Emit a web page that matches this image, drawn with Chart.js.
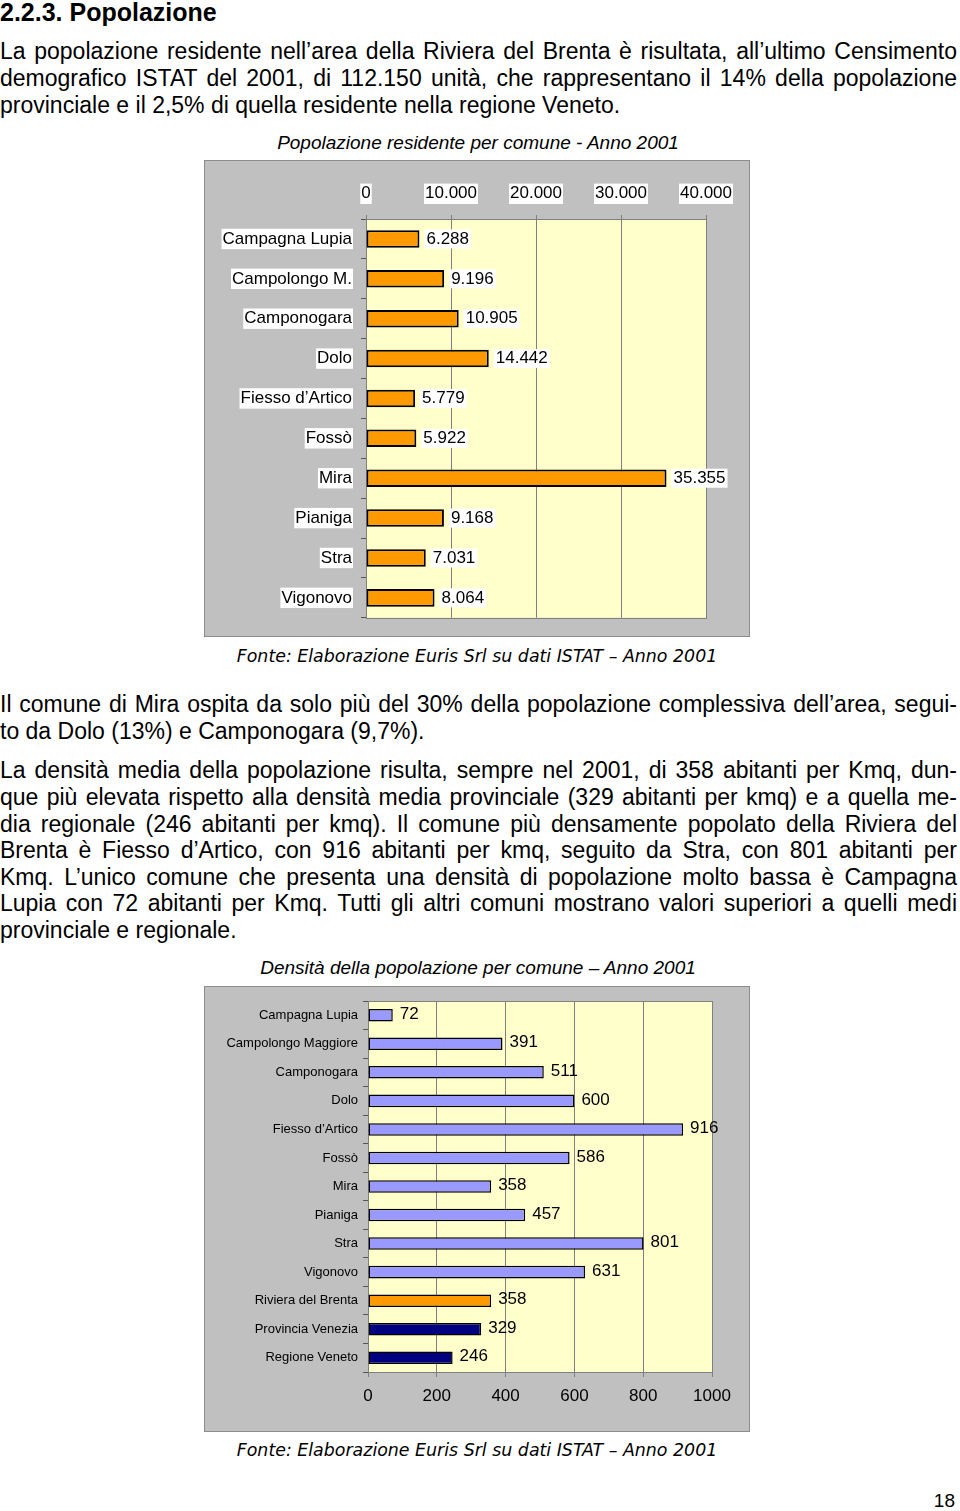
<!DOCTYPE html>
<html>
<head>
<meta charset="utf-8">
<script src="https://cdn.jsdelivr.net/npm/chart.js@4.4.0/dist/chart.umd.min.js"></script>
<style>
  body { margin: 0; width: 960px; height: 1511px; position: relative; background: #fff; color: #000;
         font-family: "Liberation Sans", Arial, sans-serif; overflow: hidden; }
  .h { position: absolute; left: 0; font-size: 25px; font-weight: bold; line-height: 30px; white-space: nowrap; }
  .t { position: absolute; left: 0; font-size: 23px; line-height: 27px; white-space: nowrap; }
  .ct { position: absolute; left: 0; width: 956px; text-align: center; font-style: italic; font-size: 19px; line-height: 22px; }
  .src { position: absolute; left: 0; width: 954px; text-align: center; font-family: "DejaVu Sans", sans-serif;
         font-style: italic; font-size: 17.4px; line-height: 20px; }
  .pg { position: absolute; right: 5px; font-size: 19px; line-height: 22px; }
  canvas { position: absolute; left: 204px; }
</style>
</head>
<body>

<div class="h" style="top:-3px">2.2.3. Popolazione</div>
<div id="testo"></div>

<div class="ct" style="top:132px">Popolazione residente per comune - Anno 2001</div>
<canvas id="chartPop" width="546" height="477" style="top:160px"></canvas>
<div class="src" style="top:646px">Fonte: Elaborazione Euris Srl su dati ISTAT – Anno 2001</div>

<div class="ct" style="top:957px">Densità della popolazione per comune – Anno 2001</div>
<canvas id="chartDens" width="546" height="446" style="top:986px"></canvas>
<div class="src" style="top:1440px">Fonte: Elaborazione Euris Srl su dati ISTAT – Anno 2001</div>

<div class="pg" style="top:1490px">18</div>

<script>
// popolazione residente 2001
const comuniPop = ['Campagna Lupia', 'Campolongo M.', 'Camponogara', 'Dolo', 'Fiesso d’Artico',
                   'Fossò', 'Mira', 'Pianiga', 'Stra', 'Vigonovo'];
const popolazione = [6288, 9196, 10905, 14442, 5779, 5922, 35355, 9168, 7031, 8064];
const popTicks = [0, 10000, 20000, 30000, 40000];

// densita abitanti per kmq
const comuniDens = ['Campagna Lupia', 'Campolongo Maggiore', 'Camponogara', 'Dolo', 'Fiesso d’Artico',
                    'Fossò', 'Mira', 'Pianiga', 'Stra', 'Vigonovo',
                    'Riviera del Brenta', 'Provincia Venezia', 'Regione Veneto'];
const densita = [72, 391, 511, 600, 916, 586, 358, 457, 801, 631, 358, 329, 246];
const densTicks = [0, 200, 400, 600, 800, 1000];

// testo della pagina: [y centro, testo, giustificato]
const righe = [
  [52, 'La popolazione residente nell’area della Riviera del Brenta è risultata, all’ultimo Censimento', true],
  [79, 'demografico ISTAT del 2001, di 112.150 unità, che rappresentano il 14% della popolazione', true],
  [106, 'provinciale e il 2,5% di quella residente nella regione Veneto.', false],
  [705, 'Il comune di Mira ospita da solo più del 30% della popolazione complessiva dell’area, segui-', true],
  [732, 'to da Dolo (13%) e Camponogara (9,7%).', false],
  [771, 'La densità media della popolazione risulta, sempre nel 2001, di 358 abitanti per Kmq, dun-', true],
  [798, 'que più elevata rispetto alla densità media provinciale (329 abitanti per kmq) e a quella me-', true],
  [825, 'dia regionale (246 abitanti per kmq). Il comune più densamente popolato della Riviera del', true],
  [851, 'Brenta è Fiesso d’Artico, con 916 abitanti per kmq, seguito da Stra, con 801 abitanti per', true],
  [878, 'Kmq. L’unico comune che presenta una densità di popolazione molto bassa è Campagna', true],
  [904, 'Lupia con 72 abitanti per Kmq. Tutti gli altri comuni mostrano valori superiori a quelli medi', true],
  [931, 'provinciale e regionale.', false]
];

const testo = document.getElementById('testo');
righe.forEach(([y, s, giust]) => {
  const d = document.createElement('div');
  d.className = 't';
  d.style.top = (y - 14) + 'px';
  const sp = document.createElement('span');
  sp.textContent = s;
  d.appendChild(sp);
  testo.appendChild(d);
  if (giust) {
    const w = sp.getBoundingClientRect().width;
    const n = s.split(' ').length - 1;
    sp.style.wordSpacing = ((957 - w) / n) + 'px';
  }
});

const fmt = v => String(v).replace(/\B(?=(\d{3})+(?!\d))/g, '.');
const FONT = 'Liberation Sans';

// sfondo grigio, area gialla e bordo
const cornice = {
  id: 'cornice',
  beforeDraw(chart) {
    const { ctx, width, height, chartArea: a } = chart;
    ctx.save();
    ctx.fillStyle = '#c0c0c0';
    ctx.fillRect(0, 0, width, height);
    ctx.strokeStyle = '#8c8c8c';
    ctx.lineWidth = 1;
    ctx.strokeRect(0.5, 0.5, width - 1, height - 1);
    ctx.fillStyle = '#ffffcc';
    ctx.fillRect(a.left, a.top, a.right - a.left, a.bottom - a.top);
    ctx.restore();
  },
  beforeDatasetsDraw(chart) {
    const { ctx, chartArea: a } = chart;
    ctx.save();
    ctx.strokeStyle = '#808080';
    ctx.lineWidth = 1;
    ctx.strokeRect(Math.round(a.left) + 0.5, Math.round(a.top) + 0.5,
                   Math.round(a.right - a.left), Math.round(a.bottom - a.top));
    ctx.restore();
  }
};

// etichette dei valori a destra delle barre
const valori = {
  id: 'valori',
  afterDatasetsDraw(chart, args, opts) {
    const { ctx } = chart;
    const meta = chart.getDatasetMeta(0);
    const data = chart.data.datasets[0].data;
    ctx.save();
    ctx.font = opts.size + 'px "' + FONT + '"';
    ctx.textBaseline = 'middle';
    meta.data.forEach((bar, i) => {
      const s = opts.fmt(data[i]);
      const x = bar.x + opts.offset;
      const y = bar.y + opts.dy;
      if (opts.backdrop) {
        const w = ctx.measureText(s).width;
        ctx.fillStyle = '#fff';
        ctx.fillRect(x - 2, y - opts.size / 2 - 1, w + 4, opts.size + 2);
      }
      ctx.fillStyle = '#000';
      ctx.fillText(s, x, y);
    });
    ctx.restore();
  }
};

new Chart(document.getElementById('chartPop'), {
  type: 'bar',
  data: {
    labels: comuniPop,
    datasets: [{
      data: popolazione,
      backgroundColor: '#ff9900',
      borderColor: '#000',
      borderWidth: 2,
      borderSkipped: false,
      barPercentage: 0.44,
      categoryPercentage: 1
    }]
  },
  options: {
    indexAxis: 'y',
    responsive: false,
    animation: false,
    layout: { padding: { left: 0, right: 44, top: 0, bottom: 18 } },
    scales: {
      x: {
        position: 'top',
        min: 0,
        max: 40000,
        afterBuildTicks: s => { s.ticks = popTicks.map(v => ({ value: v })); },
        afterFit: s => { s.height = 59; },
        grid: { color: '#808080', lineWidth: 1, tickLength: 4 },
        border: { color: '#808080' },
        ticks: {
          autoSkip: false, maxRotation: 0, padding: 11, color: '#000',
          font: { family: FONT, size: 17 },
          showLabelBackdrop: true, backdropColor: '#fff', backdropPadding: { left: 1, right: 1, top: 0, bottom: 0 },
          callback: v => fmt(v)
        }
      },
      y: {
        afterFit: s => { s.width = 162; },
        grid: { drawOnChartArea: false, tickLength: 5, color: '#555' },
        border: { color: '#555' },
        ticks: {
          padding: 9, color: '#000',
          font: { family: FONT, size: 17 },
          showLabelBackdrop: true, backdropColor: '#fff', backdropPadding: { left: 1, right: 1, top: 0, bottom: 0 }
        }
      }
    },
    plugins: {
      legend: { display: false },
      tooltip: { enabled: false },
      valori: { size: 17, offset: 7, dy: 0, backdrop: true, fmt: fmt }
    }
  },
  plugins: [cornice, valori]
});

new Chart(document.getElementById('chartDens'), {
  type: 'bar',
  data: {
    labels: comuniDens,
    datasets: [{
      data: densita,
      backgroundColor: c => {
        const l = comuniDens[c.dataIndex];
        if (l === 'Riviera del Brenta') return '#ff9900';
        if (l === 'Provincia Venezia' || l === 'Regione Veneto') return '#000080';
        return '#9999ff';
      },
      borderColor: '#000',
      borderWidth: 1.5,
      borderSkipped: false,
      barPercentage: 0.44,
      categoryPercentage: 1
    }]
  },
  options: {
    indexAxis: 'y',
    responsive: false,
    animation: false,
    layout: { padding: { left: 0, right: 38, top: 15, bottom: 0 } },
    scales: {
      x: {
        position: 'bottom',
        min: 0,
        max: 1000,
        afterBuildTicks: s => { s.ticks = densTicks.map(v => ({ value: v })); },
        afterFit: s => { s.height = 60; },
        grid: { color: '#808080', lineWidth: 1, tickLength: 5 },
        border: { color: '#808080' },
        ticks: {
          autoSkip: false, maxRotation: 0, padding: 9, color: '#000',
          font: { family: FONT, size: 17 },
          callback: v => String(v)
        }
      },
      y: {
        afterFit: s => { s.width = 164; },
        grid: { drawOnChartArea: false, tickLength: 5, color: '#555' },
        border: { color: '#555' },
        ticks: { padding: 5, color: '#000', font: { family: FONT, size: 13 } }
      }
    },
    plugins: {
      legend: { display: false },
      tooltip: { enabled: false },
      valori: { size: 17, offset: 7, dy: -1, backdrop: false, fmt: v => String(v) }
    }
  },
  plugins: [cornice, valori]
});
</script>
</body>
</html>
